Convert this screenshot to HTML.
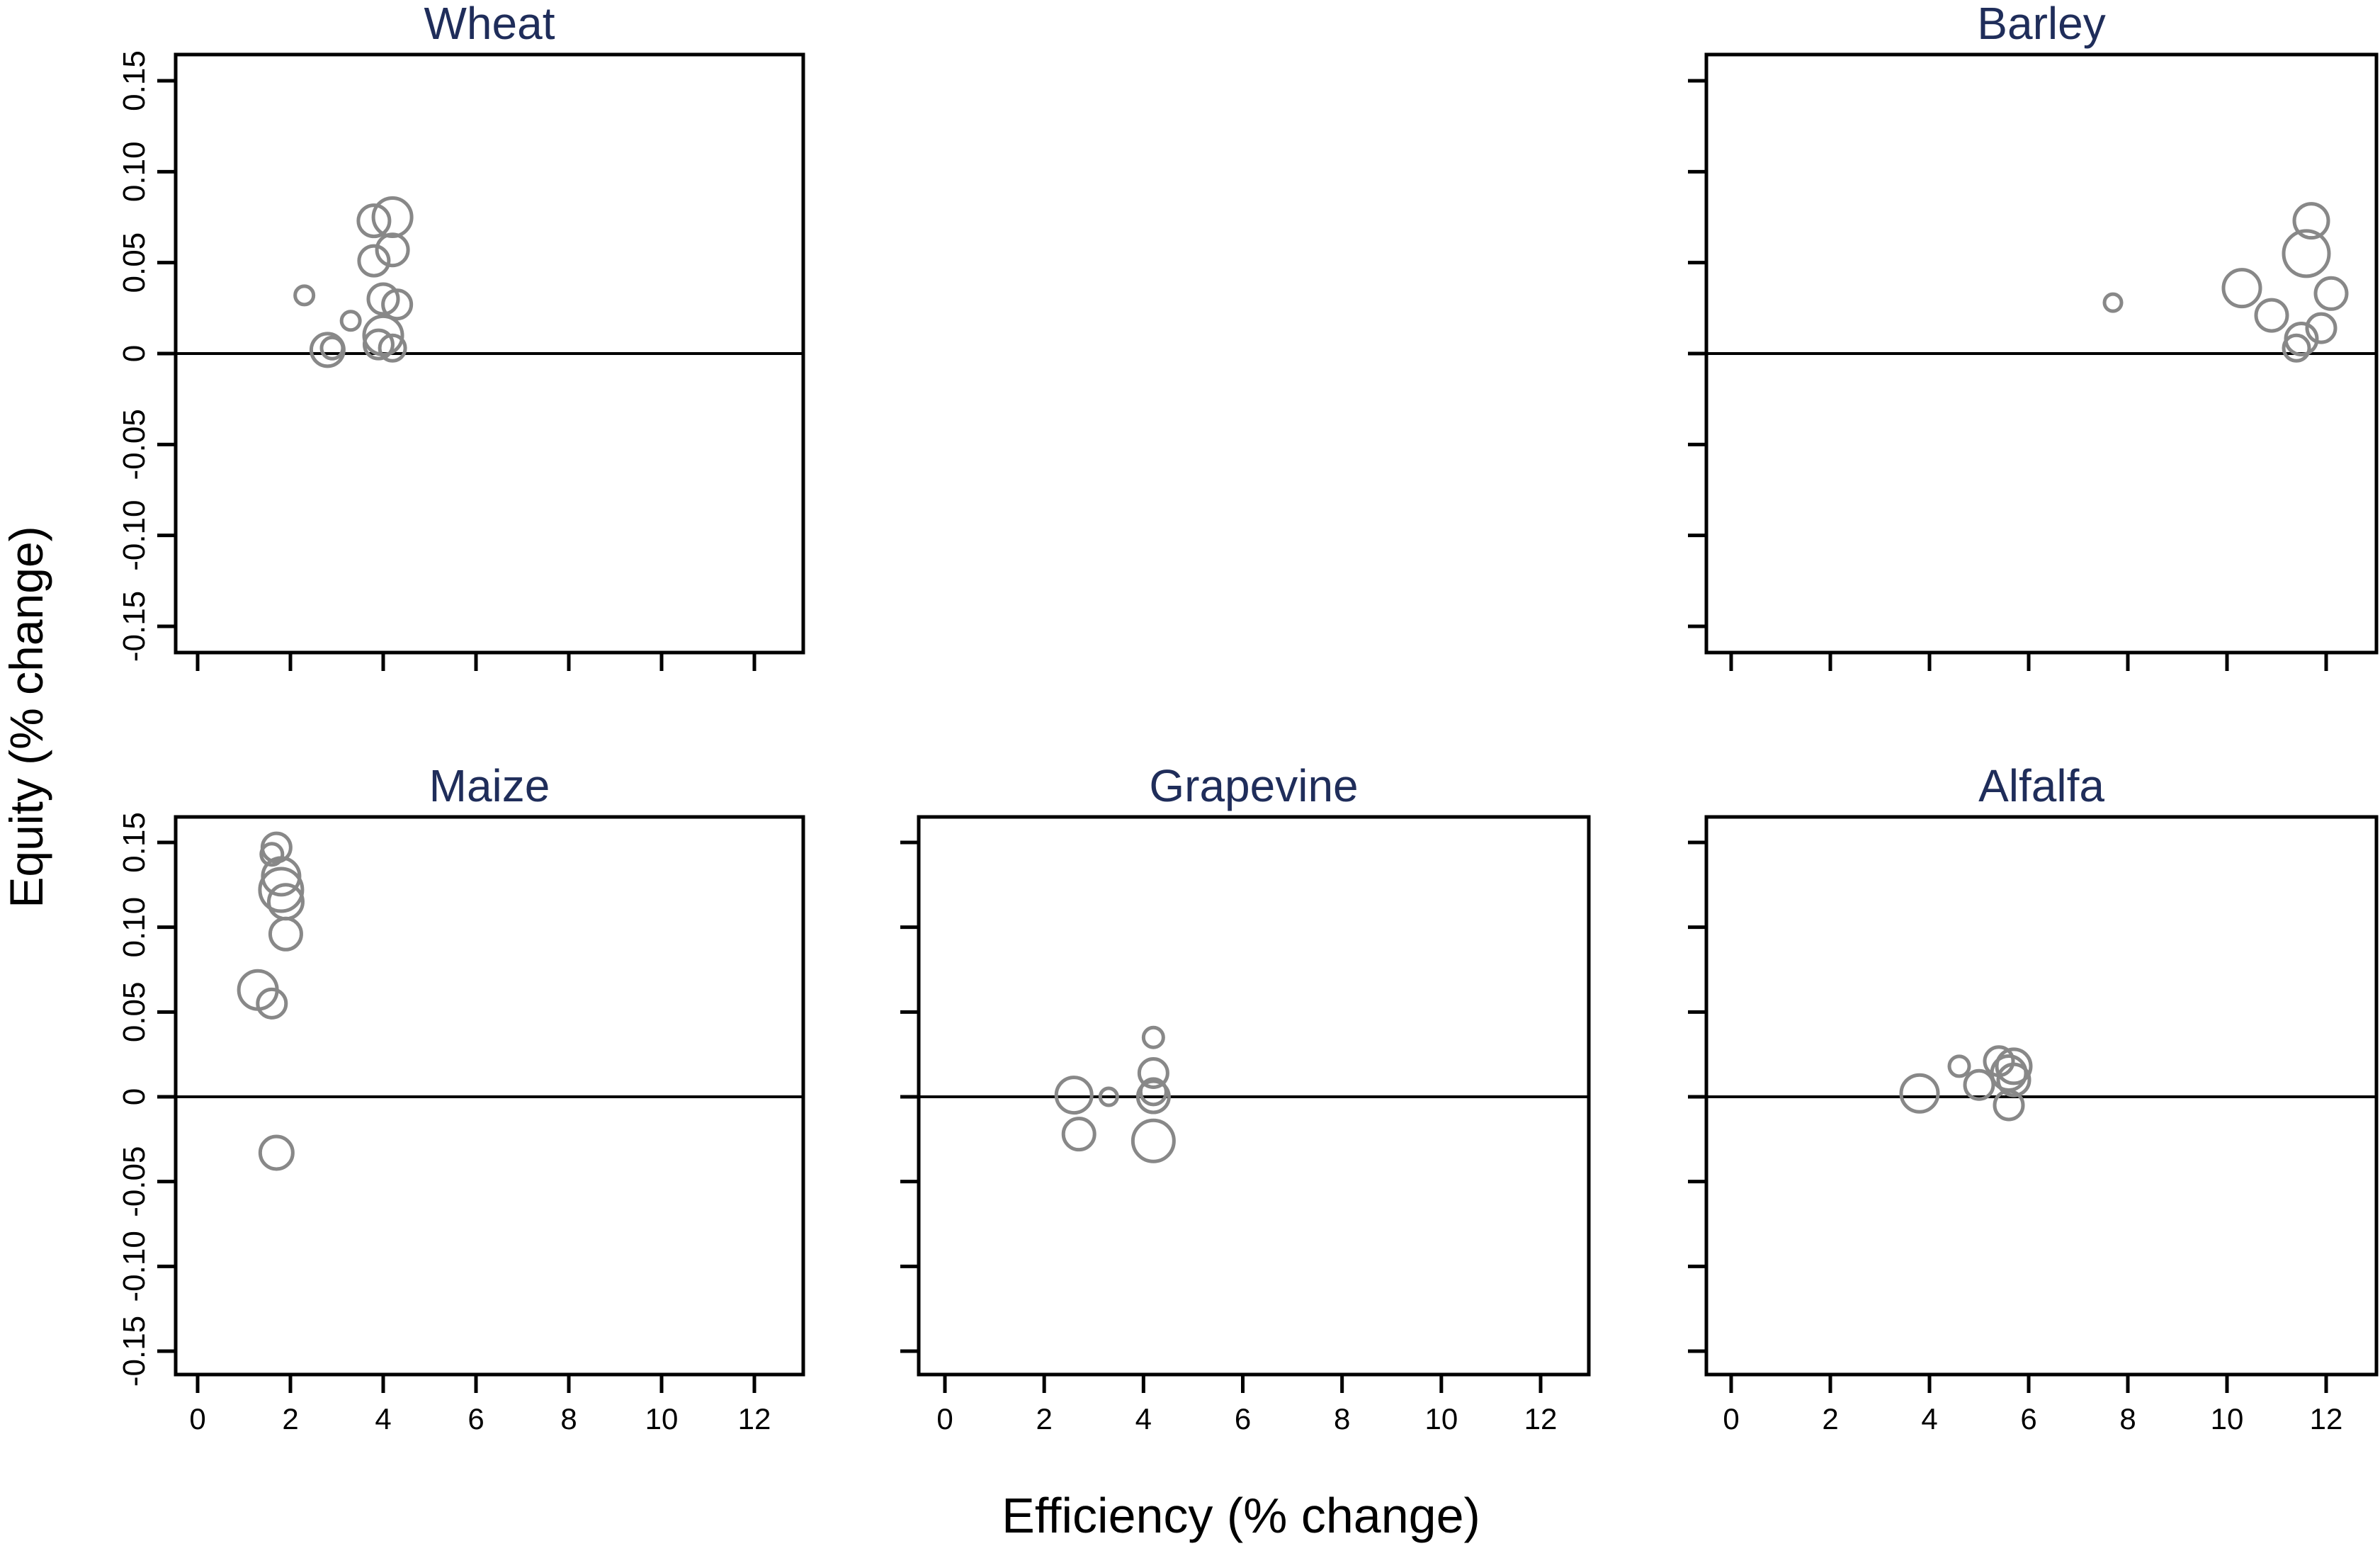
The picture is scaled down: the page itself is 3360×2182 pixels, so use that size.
<!DOCTYPE html>
<html><head><meta charset="utf-8"><style>
html,body{margin:0;padding:0;background:#fff;}
svg{display:block;font-family:"Liberation Sans",Arial,sans-serif;}
</style></head><body>
<svg id="chart" width="3360" height="2182" viewBox="0 0 3360 2182" xmlns="http://www.w3.org/2000/svg">
<text x="0" y="0" transform="translate(60,1012) rotate(-90)" text-anchor="middle" font-size="66" fill="#000">Equity (% change)</text>
<text x="1752" y="2163" text-anchor="middle" font-size="70" fill="#000">Efficiency (% change)</text>
</svg>
<script>
const xTicks=[0,2,4,6,8,10,12];
const yTicks=[0.15,0.10,0.05,0,-0.05,-0.10,-0.15];
const yTickLabels=["0.15","0.10","0.05","0","-0.05","-0.10","-0.15"];
const wheatX=[2.3,3.3,2.8,2.9,3.8,4.2,3.8,4.2,4.0,4.3,4.0,3.9,4.2];
const wheatY=[0.032,0.018,0.002,0.003,0.073,0.075,0.051,0.057,0.030,0.027,0.010,0.005,0.003];
const wheatS=[13,13,23,15,22,27,21,22,21,20,27,20,18];
const barleyX=[7.7,10.3,10.9,11.7,11.6,12.1,11.9,11.5,11.4];
const barleyY=[0.028,0.036,0.021,0.073,0.055,0.033,0.014,0.008,0.003];
const barleyS=[12,26,22,24,32,22,20,22,18];
const maizeX=[1.6,1.7,1.8,1.8,1.9,1.9,1.3,1.6,1.7];
const maizeY=[0.143,0.147,0.130,0.122,0.115,0.096,0.063,0.055,-0.033];
const maizeS=[15,20,26,30,24,22,27,20,23];
const grapeX=[2.6,3.3,2.7,4.2,4.2,4.2,4.2,4.2];
const grapeY=[0.001,0.000,-0.022,0.035,0.014,0.000,-0.026,0.003];
const grapeS=[25,12,22,14,20,22,29,18];
const alfX=[3.8,4.6,5.0,5.4,5.7,5.6,5.7,5.6];
const alfY=[0.002,0.018,0.007,0.021,0.018,0.014,0.010,-0.005];
const alfS=[26,14,20,20,24,24,22,20];

const NS="http://www.w3.org/2000/svg";
const svg=document.getElementById('chart');
function mk(tag,attrs,parent){const e=document.createElementNS(NS,tag);for(const k in attrs)e.setAttribute(k,attrs[k]);(parent||svg).appendChild(e);return e;}

const panels=[
 {name:'wheat',title:'Wheat',L:248,R:1134,T:77,B:921,x0:279,x12:1065,y15:114,yN15:884,xs:wheatX,ys:wheatY,ss:wheatS,xl:false,yl:true},
 {name:'barley',title:'Barley',L:2409,R:3355,T:77,B:921,x0:2444,x12:3284,y15:114,yN15:884,xs:barleyX,ys:barleyY,ss:barleyS,xl:false,yl:false},
 {name:'maize',title:'Maize',L:248,R:1134,T:1153,B:1940,x0:279,x12:1065,y15:1189,yN15:1907,xs:maizeX,ys:maizeY,ss:maizeS,xl:true,yl:true},
 {name:'grapevine',title:'Grapevine',L:1297,R:2243,T:1153,B:1940,x0:1334,x12:2175,y15:1189,yN15:1907,xs:grapeX,ys:grapeY,ss:grapeS,xl:true,yl:false},
 {name:'alfalfa',title:'Alfalfa',L:2409,R:3355,T:1153,B:1940,x0:2444,x12:3284,y15:1189,yN15:1907,xs:alfX,ys:alfY,ss:alfS,xl:true,yl:false}
];
panels.forEach(p=>{
  const g=mk('g',{});
  
  
  const sx=v=>p.x0+(p.x12-p.x0)*v/12;
  const sy=v=>p.y15+(p.yN15-p.y15)*(0.15-v)/0.30;
  const t=mk('text',{x:(p.L+p.R)/2,y:p.T-22,'text-anchor':'middle','font-size':64,fill:'#1f2d5a'},g);
  t.textContent=p.title;
  
  
  const z=mk('line',{x1:p.L,x2:p.R,y1:sy(0),y2:sy(0),stroke:'#000','stroke-width':4},g);
  
  
  for(let i=0;i<p.xs.length;i++){
    const c=mk('circle',{cx:sx(p.xs[i]),cy:sy(p.ys[i]),r:p.ss[i],fill:'none',stroke:'#888','stroke-width':5},g);
    
    
  }
  const box=mk('rect',{x:p.L,y:p.T,width:p.R-p.L,height:p.B-p.T,fill:'none',stroke:'#000','stroke-width':5},g);
  
  
  xTicks.forEach(v=>{
    const tk=mk('line',{x1:sx(v),x2:sx(v),y1:p.B,y2:p.B+26,stroke:'#000','stroke-width':5},g);
    
    
    if(p.xl){
      const lb=mk('text',{x:sx(v),y:p.B+77,'text-anchor':'middle','font-size':42,fill:'#000'},g);
      lb.textContent=String(v);
      
      
    }
  });
  yTicks.forEach((v,i)=>{
    const tk=mk('line',{x1:p.L-26,x2:p.L,y1:sy(v),y2:sy(v),stroke:'#000','stroke-width':5},g);
    
    
    if(p.yl){
      const lb=mk('text',{x:0,y:0,transform:`translate(${p.L-44},${sy(v)}) rotate(-90)`,'text-anchor':'middle','font-size':44,fill:'#000'},g);
      lb.textContent=yTickLabels[i];
      
      
    }
  });
});
</script>
</body></html>
